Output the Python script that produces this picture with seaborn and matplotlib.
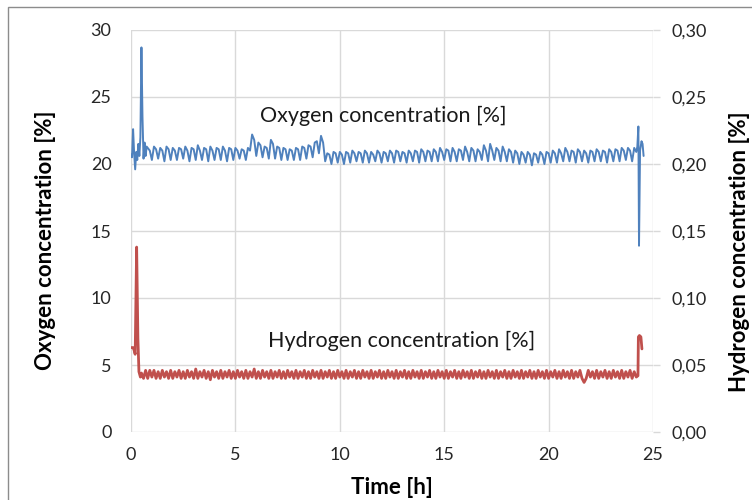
import numpy as np
import pandas as pd
import matplotlib
matplotlib.use("Agg")
import matplotlib.pyplot as plt
from matplotlib.ticker import FuncFormatter
from matplotlib.patches import Rectangle
import seaborn as sns

# ---------------- data ----------------
# Oxygen concentration [%] (left axis)
oxy_start_t = [0.0, 0.05, 0.1, 0.15, 0.2, 0.25, 0.3, 0.35, 0.4, 0.45, 0.5, 0.55, 0.6, 0.65, 0.7, 0.75]
oxy_start_v = [20.7, 20.5, 22.6, 20.8, 19.6, 20.9, 20.3, 21.5, 20.6, 22.0, 28.7, 23.5, 20.4, 21.6, 20.6, 21.3]

# regular samples every 0.1 h from 0.8 h to 24.2 h
oxy_main_v = [
    21.2, 21.0, 20.3, 21.3, 21.1, 20.4, 21.2, 21.0, 20.2, 21.3,
    21.1, 20.3, 21.2, 21.0, 20.3, 21.2, 21.1, 20.4, 21.3, 21.0,
    20.2, 21.2, 21.1, 20.3, 21.4, 21.0, 20.3, 21.2, 21.1, 20.2,
    21.3, 21.0, 20.3, 21.2, 21.1, 20.3, 21.3, 21.0, 20.2, 21.2,
    21.1, 20.3, 21.2, 21.0, 20.4, 21.1, 21.0, 20.3, 21.2, 21.0,
    22.2, 21.8, 20.6, 21.6, 21.4, 20.5, 21.3, 21.2, 20.4, 21.8,
    21.5, 20.4, 21.3, 21.2, 20.3, 21.2, 21.1, 20.3, 21.1, 21.0,
    20.3, 21.2, 21.1, 20.3, 21.3, 21.2, 20.4, 21.4, 21.3, 20.5,
    21.6, 21.7, 20.8, 22.1, 21.6, 20.2,
    20.8, 20.7, 20.0, 20.9, 20.8, 20.1, 20.9, 20.7, 20.0, 20.9,
    20.8, 20.1, 21.0, 20.8, 20.2, 20.9, 20.8, 20.1, 21.0, 20.8,
    20.1, 20.9, 20.7, 20.2, 21.0, 20.8, 20.1, 20.9, 20.8, 20.2,
    21.0, 20.8, 20.1, 21.0, 20.9, 20.2, 20.9, 20.8, 20.1, 21.0,
    20.8, 20.2, 21.0, 20.9, 20.1, 21.1, 20.9, 20.2, 21.0, 20.9,
    20.2, 21.1, 20.9, 20.2, 21.2, 20.9, 20.3, 21.1, 21.0, 20.2,
    21.2, 20.9, 20.2, 21.1, 21.0, 20.3, 21.3, 20.9, 20.2, 21.2,
    21.0, 20.2, 21.1, 20.9, 20.3, 21.4, 21.0, 20.2, 21.5, 21.0,
    20.3, 21.2, 21.0, 20.2, 21.3, 20.9, 20.2, 21.1, 20.9, 20.1,
    21.0, 20.8, 20.0, 20.9, 20.7, 20.1, 20.9, 20.7, 19.9, 20.8,
    20.7, 20.1, 20.9, 20.7, 20.0, 20.9, 20.8, 20.1, 21.0, 20.8,
    20.1, 21.1, 20.8, 20.2, 21.2, 20.9, 20.2, 21.0, 20.9, 20.1,
    21.1, 20.9, 20.2, 21.0, 20.8, 20.1, 21.0, 20.9, 20.2, 21.1,
    20.9, 20.2, 21.0, 20.9, 20.1, 21.1, 20.9, 20.2, 21.1, 21.0,
    20.2, 21.2, 21.0, 20.3, 21.2, 21.0, 20.2, 21.2, 20.9,
]
oxy_end_t = [24.25, 24.3, 24.33, 24.38, 24.45, 24.5, 24.55]
oxy_end_v = [21.3, 22.8, 13.9, 21.0, 21.7, 21.5, 20.6]

# Hydrogen concentration [%] (right axis)
hyd_start_t = [0.0, 0.1, 0.15, 0.2, 0.27, 0.33, 0.38, 0.45]
hyd_start_v = [0.063, 0.063, 0.061, 0.058, 0.138, 0.070, 0.045, 0.041]

# regular samples every 0.1 h from 0.5 h to 24.2 h
hyd_main_v = [
    0.044, 0.040, 0.046, 0.040, 0.046, 0.041, 0.046, 0.040, 0.045, 0.040,
    0.046, 0.041, 0.045, 0.040, 0.046, 0.040, 0.045, 0.041, 0.046, 0.040,
    0.045, 0.040, 0.046, 0.041, 0.045, 0.040, 0.047, 0.040, 0.045, 0.041,
    0.046, 0.040, 0.045, 0.039, 0.046, 0.041, 0.045, 0.040, 0.046, 0.040,
    0.045, 0.041, 0.046, 0.040, 0.045, 0.040, 0.046, 0.041, 0.045, 0.040,
    0.046, 0.040, 0.045, 0.041, 0.047, 0.040, 0.045, 0.040, 0.046, 0.041,
    0.045, 0.040, 0.046, 0.040, 0.045, 0.041, 0.046, 0.040, 0.045, 0.040,
    0.046, 0.041, 0.045, 0.040, 0.046, 0.040, 0.045, 0.041, 0.046, 0.040,
    0.045, 0.040, 0.046, 0.041, 0.045, 0.040, 0.046, 0.040, 0.045, 0.041,
    0.046, 0.040, 0.045, 0.040, 0.046, 0.041, 0.045, 0.040, 0.046, 0.040,
    0.045, 0.041, 0.046, 0.040, 0.045, 0.040, 0.046, 0.041, 0.045, 0.040,
    0.046, 0.040, 0.045, 0.041, 0.046, 0.040, 0.045, 0.040, 0.046, 0.041,
    0.045, 0.040, 0.046, 0.040, 0.045, 0.041, 0.046, 0.040, 0.045, 0.040,
    0.046, 0.041, 0.045, 0.040, 0.046, 0.040, 0.045, 0.041, 0.046, 0.040,
    0.045, 0.040, 0.046, 0.041, 0.045, 0.040, 0.046, 0.040, 0.045, 0.041,
    0.046, 0.040, 0.045, 0.040, 0.046, 0.041, 0.045, 0.040, 0.046, 0.040,
    0.045, 0.041, 0.046, 0.040, 0.045, 0.040, 0.046, 0.041, 0.045, 0.040,
    0.046, 0.040, 0.045, 0.041, 0.046, 0.040, 0.045, 0.040, 0.046, 0.041,
    0.045, 0.040, 0.046, 0.040, 0.045, 0.041, 0.046, 0.040, 0.045, 0.040,
    0.046, 0.041, 0.045, 0.040, 0.046, 0.040, 0.045, 0.041, 0.046, 0.040,
    0.045, 0.040, 0.046, 0.041, 0.045, 0.040, 0.046, 0.040, 0.045, 0.041,
    0.046, 0.040, 0.037, 0.040, 0.046, 0.041, 0.045, 0.040, 0.046, 0.040,
    0.045, 0.041, 0.046, 0.040, 0.045, 0.040, 0.046, 0.041, 0.045, 0.040,
    0.046, 0.040, 0.045, 0.041, 0.046, 0.040, 0.045, 0.041,
]
hyd_end_t = [24.28, 24.3, 24.35, 24.42, 24.47]
hyd_end_v = [0.042, 0.071, 0.072, 0.071, 0.062]

x_ticks = [0, 5, 10, 15, 20, 25]
oxy_ticks = [0, 5, 10, 15, 20, 25, 30]
hyd_ticks = [0.00, 0.05, 0.10, 0.15, 0.20, 0.25, 0.30]

# sampling grid of the regular parts (0.1 h step)
oxy_main_t = list(np.round(0.8 + 0.1 * np.arange(len(oxy_main_v)), 2))
hyd_main_t = list(np.round(0.5 + 0.1 * np.arange(len(hyd_main_v)), 2))

oxy_df = pd.DataFrame({"t": oxy_start_t + oxy_main_t + oxy_end_t,
                       "v": oxy_start_v + oxy_main_v + oxy_end_v})
hyd_df = pd.DataFrame({"t": hyd_start_t + hyd_main_t + hyd_end_t,
                       "v": hyd_start_v + hyd_main_v + hyd_end_v})

# ---------------- plotting ----------------
sns.set_theme(style="white")
plt.rcParams["font.family"] = ["Lato", "DejaVu Sans"]

BLUE = "#4F81BD"
RED = "#C0504D"
GRID = "#D9D9D9"

fig = plt.figure(figsize=(7.52, 5.0), dpi=100)
ax = fig.add_axes([131 / 752, 1 - 432 / 500, (653 - 131) / 752, (432 - 30) / 500])
ax2 = ax.twinx()

sns.lineplot(data=oxy_df, x="t", y="v", ax=ax, color=BLUE, linewidth=1.4,
             estimator=None, sort=False)
sns.lineplot(data=hyd_df, x="t", y="v", ax=ax2, color=RED, linewidth=2.0,
             estimator=None, sort=False)

ax.set_xlim(0, 25)
ax.set_ylim(0, 30)
ax2.set_ylim(0, 0.30)
ax.set_xticks(x_ticks)
ax.set_yticks(oxy_ticks)
ax2.set_yticks(hyd_ticks)
ax2.yaxis.set_major_formatter(FuncFormatter(lambda v, p: f"{v:.2f}".replace(".", ",")))

ax.grid(True, color=GRID, linewidth=1.0)
ax2.grid(False)
ax.set_axisbelow(True)
for a in (ax, ax2):
    for s in a.spines.values():
        s.set_visible(False)

ax.tick_params(axis="y", length=0, pad=14, labelsize=13, colors="#262626")
ax.tick_params(axis="x", length=0, pad=11, labelsize=13, colors="#262626")
ax2.tick_params(axis="y", length=5, width=1, pad=8, labelsize=13,
                colors=GRID, labelcolor="#262626")

ax.set_xlabel("")
ax.set_ylabel("")
ax2.set_ylabel("")

fig.text(392 / 752, 1 - 487 / 500, "Time [h]", ha="center", va="center",
         fontsize=16, fontweight="bold", color="#000000")
fig.text(46 / 752, 1 - 240 / 500, "Oxygen concentration [%]", ha="center", va="center",
         rotation=90, fontsize=16, fontweight="bold", color="#000000")
fig.text(739 / 752, 1 - 252 / 500, "Hydrogen concentration [%]", ha="center", va="center",
         rotation=90, fontsize=16, fontweight="bold", color="#000000")

ax.text(6.2, 23.6, "Oxygen concentration [%]", ha="left", va="center",
        fontsize=15.5, color="#1a1a1a")
ax.text(6.55, 6.8, "Hydrogen concentration [%]", ha="left", va="center",
        fontsize=15.5, color="#1a1a1a")

# outer chart border (cropped at right and bottom as in the reference)
fig.patches.append(Rectangle((8 / 752, -0.1), 1.2, 1 - 7 / 500 + 0.1,
                             transform=fig.transFigure, fill=False,
                             edgecolor="#8c8c8c", linewidth=1.0))

fig.savefig("out.png", dpi=100)
